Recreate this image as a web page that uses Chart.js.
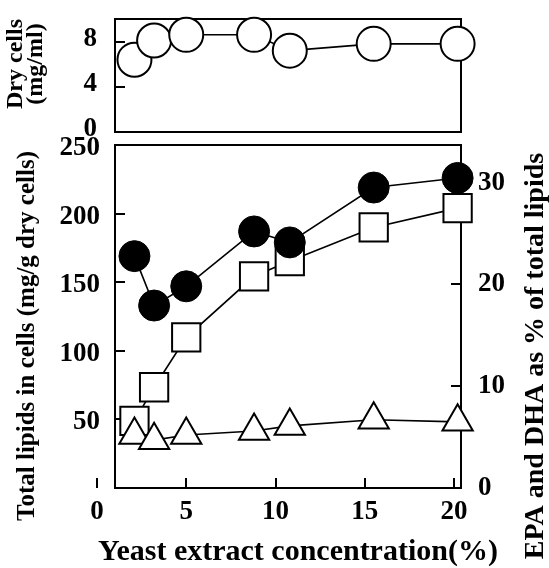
<!DOCTYPE html>
<html>
<head>
<meta charset="utf-8">
<script src="https://cdn.jsdelivr.net/npm/chart.js@4.4.0/dist/chart.umd.min.js"></script>
<style>
  html, body { margin: 0; padding: 0; background: #fff; }
  #wrap { position: relative; width: 549px; height: 568px; }
  #wrap canvas { position: absolute; left: 0; top: 0; }
  #cellChart { pointer-events: none; }
</style>
</head>
<body>
<div id="wrap">
  <canvas id="lipidChart" width="549" height="568"></canvas>
  <canvas id="cellChart" width="549" height="568"></canvas>
</div>
<script>
// yeast extract concentration (%)
const concentration = [2.1, 3.2, 5.0, 8.8, 10.8, 15.5, 20.2];
// dry cells (mg/ml)
const dryCells = [6.4, 8.1, 8.6, 8.6, 7.2, 7.8, 7.8];
// total lipids in cells (mg/g dry cells)
const totalLipids = [169, 133, 147, 187, 179, 219, 226];
// EPA and DHA as % of total lipids
const dhaPercent = [6.6, 9.9, 14.8, 20.8, 22.3, 25.6, 27.5];
const epaPercent = [5.2, 4.7, 5.2, 5.6, 6.1, 6.7, 6.5];

const concTicks = [0, 5, 10, 15, 20];
const dryTicks = [0, 4, 8];
const lipidTicks = [50, 100, 150, 200, 250];
const percentTicks = [0, 10, 20, 30];

const SERIF = '"Liberation Serif", "Times New Roman", serif';
Chart.defaults.font.family = SERIF;
Chart.defaults.font.weight = 'bold';
Chart.defaults.color = '#000';

const points = (ys) => concentration.map((x, i) => ({ x: x, y: ys[i] }));
const fixTicks = (list) => (scale) => { scale.ticks = list.map(v => ({ value: v })); };

// fixed axis box size; label padding must not push the plot area around
const boxWidth = (w) => (s) => {
  s.width = w;
  s.paddingTop = s.paddingBottom = s.paddingLeft = s.paddingRight = 0;
};
const boxHeight = (h) => (s) => {
  s.height = h;
  s.paddingTop = s.paddingBottom = s.paddingLeft = s.paddingRight = 0;
};

// short tick marks pointing into the plot
const inwardGrid = { drawOnChartArea: false, drawTicks: true, tickLength: -10, lineWidth: 2, color: '#000' };

// box around the plot area, under the markers
const framePlugin = {
  id: 'frame',
  beforeDatasetsDraw(chart) {
    const { ctx, chartArea: a } = chart;
    ctx.save();
    ctx.strokeStyle = '#000';
    ctx.lineWidth = 2;
    ctx.strokeRect(a.left, a.top, a.right - a.left, a.bottom - a.top);
    ctx.restore();
  }
};

// axis titles
const titlesPlugin = {
  id: 'titles',
  afterDraw(chart) {
    const ctx = chart.ctx;
    const put = (text, x, y, size, rotate) => {
      ctx.save();
      ctx.translate(x, y);
      if (rotate) ctx.rotate(-Math.PI / 2);
      ctx.font = 'bold ' + size + 'px ' + SERIF;
      ctx.fillStyle = '#000';
      ctx.textAlign = 'center';
      ctx.textBaseline = 'middle';
      ctx.fillText(text, 0, 0);
      ctx.restore();
    };
    put('Dry cells', 16, 64, 24, true);
    put('(mg/ml)', 36, 64, 24, true);
    put('Total lipids in cells (mg/g dry cells)', 28, 336, 25, true);
    put('EPA and DHA as % of total lipids', 536, 356, 28, true);
    put('Yeast extract concentration(%)', 298, 552, 30, false);
  }
};

// lower panel: lipids and fatty acids
new Chart(document.getElementById('lipidChart'), {
  type: 'scatter',
  data: {
    datasets: [
      {
        label: 'Total lipids',
        data: points(totalLipids),
        yAxisID: 'y',
        showLine: true,
        borderColor: '#000',
        borderWidth: 1.6,
        pointStyle: 'circle',
        pointRadius: 15.5,
        pointBackgroundColor: '#000',
        pointBorderColor: '#000',
        pointBorderWidth: 1,
        clip: false
      },
      {
        label: 'EPA',
        data: points(epaPercent),
        yAxisID: 'y1',
        showLine: true,
        borderColor: '#000',
        borderWidth: 1.6,
        pointStyle: 'triangle',
        pointRadius: 17.5,
        pointBackgroundColor: '#fff',
        pointBorderColor: '#000',
        pointBorderWidth: 2,
        clip: false
      },
      {
        label: 'DHA',
        data: points(dhaPercent),
        yAxisID: 'y1',
        showLine: true,
        borderColor: '#000',
        borderWidth: 1.6,
        pointStyle: 'rect',
        pointRadius: 20,
        pointBackgroundColor: '#fff',
        pointBorderColor: '#000',
        pointBorderWidth: 2,
        clip: false
      }
    ]
  },
  options: {
    responsive: false,
    animation: false,
    devicePixelRatio: 1,
    layout: { padding: { top: 145, left: 0, right: 0, bottom: 0 } },
    plugins: { legend: { display: false }, tooltip: { enabled: false } },
    scales: {
      x: {
        type: 'linear',
        position: 'bottom',
        min: 1.01,
        max: 20.39,
        afterBuildTicks: fixTicks(concTicks),
        afterFit: boxHeight(80),
        grid: inwardGrid,
        border: { display: false },
        ticks: { autoSkip: false, maxRotation: 0, padding: 18, font: { size: 27 } }
      },
      y: {
        position: 'left',
        min: 0,
        max: 250,
        afterBuildTicks: fixTicks(lipidTicks),
        afterFit: boxWidth(115),
        grid: inwardGrid,
        border: { display: false },
        ticks: { padding: 25, labelOffset: 3, font: { size: 27 } }
      },
      y1: {
        position: 'right',
        min: 0,
        max: 33.7,
        afterBuildTicks: fixTicks(percentTicks),
        afterFit: boxWidth(88),
        grid: inwardGrid,
        border: { display: false },
        ticks: { padding: 27, font: { size: 27 } }
      }
    }
  },
  plugins: [framePlugin, titlesPlugin]
});

// upper panel: cell growth
new Chart(document.getElementById('cellChart'), {
  type: 'scatter',
  data: {
    datasets: [{
      label: 'Dry cells',
      data: points(dryCells),
      showLine: true,
      borderColor: '#000',
      borderWidth: 1.6,
      pointStyle: 'circle',
      pointRadius: 17,
      pointBackgroundColor: '#fff',
      pointBorderColor: '#000',
      pointBorderWidth: 2,
      clip: false
    }]
  },
  options: {
    responsive: false,
    animation: false,
    devicePixelRatio: 1,
    layout: { padding: { top: 13, left: 0, right: 88, bottom: 436 } },
    plugins: { legend: { display: false }, tooltip: { enabled: false } },
    scales: {
      x: { type: 'linear', display: false, min: 1.01, max: 20.39 },
      y: {
        position: 'left',
        min: 0,
        max: 10,
        afterBuildTicks: fixTicks(dryTicks),
        afterFit: boxWidth(115),
        grid: inwardGrid,
        border: { display: false },
        ticks: { padding: 28, labelOffset: -3, font: { size: 27 } }
      }
    }
  },
  plugins: [framePlugin]
});
</script>
</body>
</html>
